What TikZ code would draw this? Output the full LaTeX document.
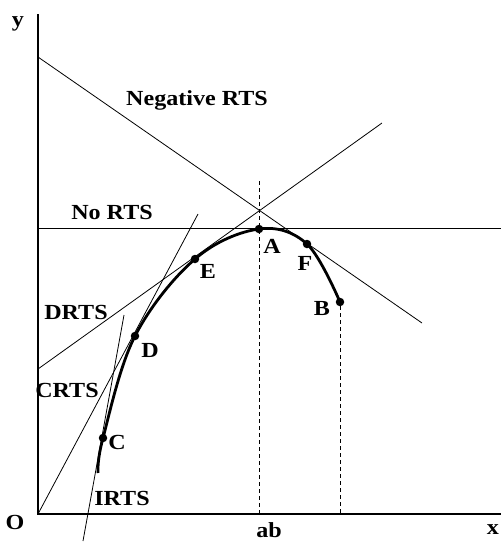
\documentclass[tikz,border=0pt]{standalone}
\usepackage{fontspec}
\setmainfont{Liberation Serif}[FakeStretch=1.12]
\begin{document}
\begin{tikzpicture}[x=1pt,y=-1pt,
  lbl/.style={font=\bfseries\fontsize{21.5}{24}\selectfont, inner sep=0pt},
  axis/.style={line width=2pt},
  thin/.style={line width=0.8pt},
  guide/.style={line width=0.8pt, dash pattern=on 4pt off 3pt},
  curve/.style={line width=2.8pt},
  dot/.style={circle, fill=black, minimum size=8.5pt, inner sep=0pt}]
\useasboundingbox (0,0) rectangle (501,542);
% coordinates
\coordinate (O) at (38,514);
\coordinate (ytop) at (38,14);
\coordinate (xend) at (501,514);
\coordinate (n1) at (38,57);
\coordinate (n2) at (422,323);
\coordinate (d1) at (38,369);
\coordinate (d2) at (382,123);
\coordinate (c2) at (198,214);
\coordinate (i1) at (83,541);
\coordinate (i2) at (124,315);
\coordinate (h1) at (38,228);
\coordinate (h2) at (501,228);
\coordinate (abtop) at (259,181);
\coordinate (abbot) at (259,514);
\coordinate (bbot) at (340,514);
% points on curve
\node[dot] (C) at (103,438) {};
\node[dot] (D) at (135,336) {};
\node[dot] (E) at (195,259) {};
\node[dot] (A) at (259,229) {};
\node[dot] (F) at (307,244) {};
\node[dot] (B) at (340,302) {};
% lines
\draw[thin] (n1) -- (n2);
\draw[thin] (d1) -- (d2);
\draw[thin] (O) -- (c2);
\draw[thin] (i1) -- (i2);
\draw[thin] (h1) -- (h2);
\draw[guide] (abtop) -- (abbot);
\draw[guide] (B) -- (bbot);
% curve
\draw[curve] plot[smooth, tension=0.6] coordinates {(98,473) (103,438) (135,336) (195,259) (259,229) (307,244) (340,302)};
% axes
\draw[axis] (ytop) -- (O) -- (xend);
% labels
\node[lbl] (ly) at (18,24) {y};
\node[lbl] (lO) at (15,522) {O};
\node[lbl] (lx) at (493,530) {x};
\node[lbl] (lab) at (269,530) {ab};
\node[lbl] (lneg) at (197,100) {Negative RTS};
\node[lbl] (lno) at (112,212) {No RTS};
\node[lbl] (ldr) at (76,312) {DRTS};
\node[lbl] (lcr) at (67,390) {CRTS};
\node[lbl] (lir) at (122,498) {IRTS};
\node[lbl] (lA) at (272,246) {A};
\node[lbl] (lF) at (305,263) {F};
\node[lbl] (lB) at (322,308) {B};
\node[lbl] (lE) at (208,271) {E};
\node[lbl] (lD) at (150,350) {D};
\node[lbl] (lC) at (117,442) {C};
\end{tikzpicture}
\end{document}
